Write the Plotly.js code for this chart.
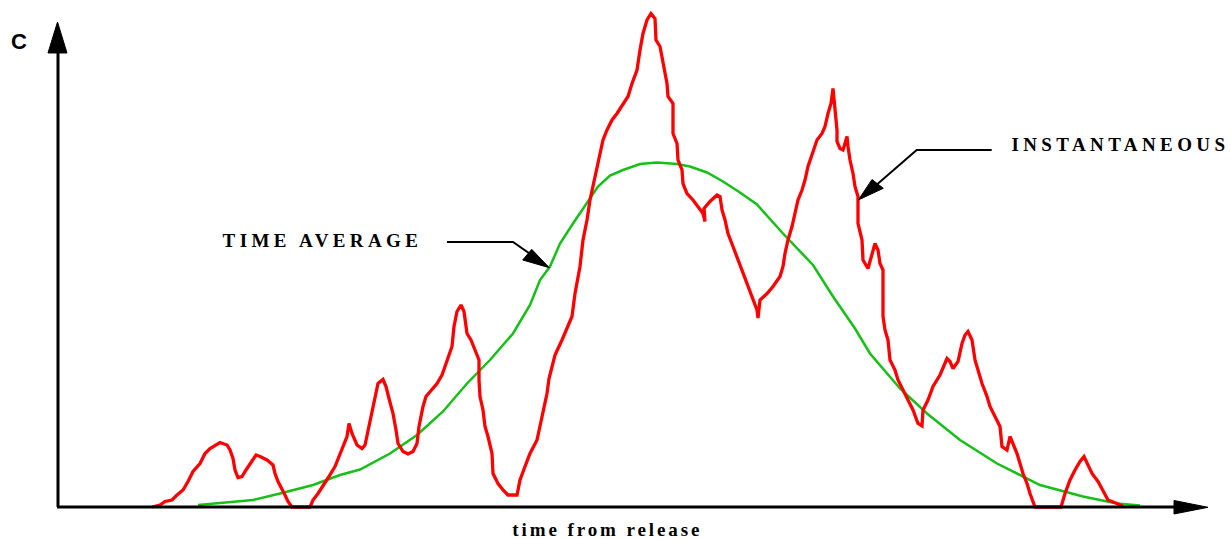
<!DOCTYPE html>
<html>
<head>
<meta charset="utf-8">
<script src="https://cdn.plot.ly/plotly-3.0.1.min.js"></script>
<style>
  html, body { margin: 0; padding: 0; background: #ffffff; }
  #chart { width: 1231px; height: 539px; }
  g.annotation[data-index="1"] text { letter-spacing: 2.9px; }
  g.annotation[data-index="2"] text, g.annotation[data-index="3"] text { letter-spacing: 4.4px; }
</style>
</head>
<body>
<div id="chart"></div>
<script>
// ---- data: time from release (arbitrary units) and concentration C (arbitrary units) ----
const instTime = [9.4,10.2,10.7,11.4,11.9,12.5,13.0,13.5,14.2,14.7,15.2,15.9,16.2,16.9,17.2,17.5,17.7,18.0,18.4,18.8,19.4,19.8,20.2,20.9,21.5,21.7,22.0,22.4,22.7,23.0,23.4,
  25.2,25.5,26.0,26.5,27.0,27.7,28.4,28.9,29.1,29.4,29.9,30.4,30.7,31.0,31.4,31.7,32.0,32.5,32.8,33.1,33.5,33.8,34.0,34.5,35.0,35.5,35.9,36.1,36.5,36.8,37.4,37.9,38.4,38.9,39.4,39.6,39.9,40.3,40.6,40.9,41.3,41.7,42.1,42.1,42.2,42.5,42.7,43.0,43.4,43.5,44.0,44.5,45.0,45.9,46.2,46.7,47.2,47.9,48.2,48.5,48.9,49.1,49.7,50.4,51.0,
  51.4,51.7,52.2,52.5,52.9,53.2,53.5,53.9,54.2,54.5,54.9,55.4,55.9,56.5,57.0,57.4,57.9,58.2,58.5,58.9,59.3,59.7,59.8,60.2,60.6,60.9,61.0,61.5,61.5,61.9,62.0,62.4,62.5,62.9,63.5,64.0,64.5,64.7,64.6,65.2,65.9,66.2,66.4,66.7,67.0,67.5,68.0,68.4,68.9,69.5,69.9,70.0,70.2,70.9,71.5,72.2,72.5,72.7,73.0,73.4,73.7,74.0,74.4,74.7,75.0,75.4,75.9,76.4,76.7,77.0,77.3,77.5,77.7,77.9,77.9,78.2,78.5,78.9,79.0,79.2,79.5,79.7,80.0,80.0,80.4,80.5,81.0,81.4,81.7,82.0,82.2,82.5,82.5,82.5,82.7,83.0,83.2,83.7,84.0,84.5,85.0,85.5,86.0,86.4,86.5,87.0,87.5,88.2,88.9,89.2,89.5,90.0,90.4,90.7,91.0,91.4,91.7,92.0,92.4,92.9,93.2,93.7,94.2,94.4,94.9,95.2,95.5,95.9,96.2,96.5,96.9,97.2,97.7,
  100.3,100.7,101.2,101.7,102.2,102.6,102.9,103.4,104.0,104.5,105.0,105.9,106.5];
const instConc = [0,0.4,1.1,1.4,2.4,3.4,5.1,7.1,8.7,10.7,11.7,12.6,12.9,12.4,11.4,9.7,7.4,5.9,6.1,7.4,9.1,10.4,10.1,9.4,8.4,6.7,5.1,3.7,2.4,1.1,0,
  0,1.4,2.7,4.4,5.8,8.1,11.4,14.1,16.7,14.7,12.4,11.7,12.4,15.4,18.7,22.1,24.7,25.5,24.1,21.7,18.7,15.4,12.7,11.1,10.6,11.1,12.7,16.1,20.1,22.1,23.4,24.7,26.4,29.4,32.1,36.1,39.1,40.4,39.1,34.7,33.4,31.4,29.4,25.4,22.1,19.4,16.1,14.1,10.7,6.7,4.7,3.4,2.4,2.4,5.4,8.1,10.7,13.4,16.1,18.7,22.7,25.7,30.4,33.4,36.4,
  38.1,42.7,48.1,53.4,57.4,61.4,64.1,68.1,70.7,73.4,75.4,77.4,78.7,80.7,82.1,84.7,87.4,91.4,94.7,97.4,98.7,97.7,93.4,92.1,88.1,84.7,82.1,80.7,74.7,72.7,69.4,67.4,64.7,62.7,61.4,60.1,58.7,57.1,59.7,61.1,62.4,62.1,59.4,57.4,54.7,52.1,49.4,47.4,44.7,41.4,39.4,37.8,41.4,42.7,44.1,46.1,48.1,50.7,53.4,56.1,58.7,61.4,63.4,65.4,68.1,70.7,73.4,74.7,76.1,78.7,80.7,83.7,78.7,75.4,73.1,71.7,71.4,74.1,72.1,69.4,66.7,64.1,62.1,56.7,53.4,49.4,47.7,50.7,52.7,51.4,48.7,47.4,42.7,38.1,35.4,33.4,29.4,27.4,25.4,23.4,21.4,19.4,16.7,16.2,19.4,21.4,24.1,26.4,29.7,29.1,27.7,29.1,32.7,34.4,35.1,33.4,29.4,27.4,24.7,22.1,20.1,18.1,16.1,12.1,11.4,14.1,12.7,10.7,8.7,6.7,4.7,2.7,0,
  0,2.7,5.4,7.4,9.1,10.1,8.7,6.7,5.1,3.4,1.4,0.7,0.1];

const avgTime = [14.0,19.5,22.2,25.5,28.2,30.2,33.2,35.9,38.5,40.9,43.2,45.5,47.2,48.2,49.2,50.2,51.5,52.9,54.0,55.2,56.5,58.2,59.9,61.9,63.2,64.9,66.5,68.2,69.9,72.5,75.5,77.5,79.7,81.2,84.2,86.9,90.2,93.9,98.2,102.5,105.9,108.2];
const avgConc = [0.4,1.4,2.7,4.4,6.4,7.5,10.7,14.4,19.1,24.7,29.4,34.7,40.4,45.4,48.1,52.7,56.7,60.7,64.1,66.3,67.4,68.6,68.9,68.6,68.1,66.9,65.1,62.9,60.5,54.7,48.4,42.1,35.7,30.7,23.7,18.7,13.4,8.7,4.4,2.1,0.7,0.3];

const labelC = "C";
const labelTime = "time from release";
const labelAvg = "TIME AVERAGE";
const labelInst = "INSTANTANEOUS";

// ---- layout helpers (pixel -> paper) ----
const W = 1231, H = 539;
const px = v => v / W;
const py = v => 1 - v / H;
function path(pts, close) {
  return pts.map((p, i) => (i ? 'L' : 'M') + px(p[0]).toFixed(5) + ',' + py(p[1]).toFixed(5)).join(' ') + (close ? ' Z' : '');
}

const traces = [
  { x: avgTime, y: avgConc, type: 'scatter', mode: 'lines', line: { color: '#16c016', width: 2.5 }, hoverinfo: 'skip' },
  { x: instTime, y: instConc, type: 'scatter', mode: 'lines', line: { color: '#ff0000', width: 3.3 }, hoverinfo: 'skip' }
];

const shapes = [
  // y axis + arrowhead
  { type: 'path', xref: 'paper', yref: 'paper', path: path([[58, 507], [58, 50]]), line: { color: '#000', width: 3 } },
  { type: 'path', xref: 'paper', yref: 'paper', path: path([[48, 53], [67, 53], [57.5, 22]], true), fillcolor: '#000', line: { color: '#000', width: 1 } },
  // x axis + arrowhead
  { type: 'path', xref: 'paper', yref: 'paper', path: path([[57, 507], [1176, 507]]), line: { color: '#000', width: 3 } },
  { type: 'path', xref: 'paper', yref: 'paper', path: path([[1174, 500.5], [1174, 514], [1208, 507.3]], true), fillcolor: '#000', line: { color: '#000', width: 1 } },
  // TIME AVERAGE pointer
  { type: 'path', xref: 'paper', yref: 'paper', path: path([[447, 242], [513, 242], [536, 258]]), line: { color: '#000', width: 2 } },
  { type: 'path', xref: 'paper', yref: 'paper', path: path([[522.7, 260], [531.7, 249.3], [549.3, 267.7]], true), fillcolor: '#000', line: { color: '#000', width: 1 } },
  // INSTANTANEOUS pointer
  { type: 'path', xref: 'paper', yref: 'paper', path: path([[991.7, 150], [916.7, 150], [874, 187]]), line: { color: '#000', width: 2 } },
  { type: 'path', xref: 'paper', yref: 'paper', path: path([[872, 179.5], [883.3, 188.3], [858.3, 200]], true), fillcolor: '#000', line: { color: '#000', width: 1 } }
];

const serif = { family: 'Liberation Serif, Times New Roman, serif', size: 19, color: '#000', weight: 'bold' };
const annotations = [
  { text: '<b>' + labelC + '</b>', xref: 'paper', yref: 'paper', x: px(19), y: py(41), xanchor: 'center', yanchor: 'middle', showarrow: false,
    font: { family: 'Liberation Sans, Arial, sans-serif', size: 22, color: '#000', weight: 'bold' } },
  { text: '<b>' + labelTime + '</b>', xref: 'paper', yref: 'paper', x: px(607), y: py(529), xanchor: 'center', yanchor: 'middle', showarrow: false, font: serif },
  { text: '<b>' + labelAvg + '</b>', xref: 'paper', yref: 'paper', x: px(322), y: py(240), xanchor: 'center', yanchor: 'middle', showarrow: false, font: serif },
  { text: '<b>' + labelInst + '</b>', xref: 'paper', yref: 'paper', x: px(1120), y: py(144), xanchor: 'center', yanchor: 'middle', showarrow: false, font: serif }
];

const layout = {
  width: W, height: H,
  margin: { l: 0, r: 0, t: 0, b: 0, pad: 0 },
  paper_bgcolor: '#ffffff', plot_bgcolor: '#ffffff',
  showlegend: false,
  xaxis: { range: [-5.8, 117.3], visible: false, fixedrange: true },
  yaxis: { range: [-6.4, 101.4], visible: false, fixedrange: true },
  shapes: shapes,
  annotations: annotations
};

Plotly.newPlot('chart', traces, layout, { staticPlot: true, displayModeBar: false });
</script>
</body>
</html>
